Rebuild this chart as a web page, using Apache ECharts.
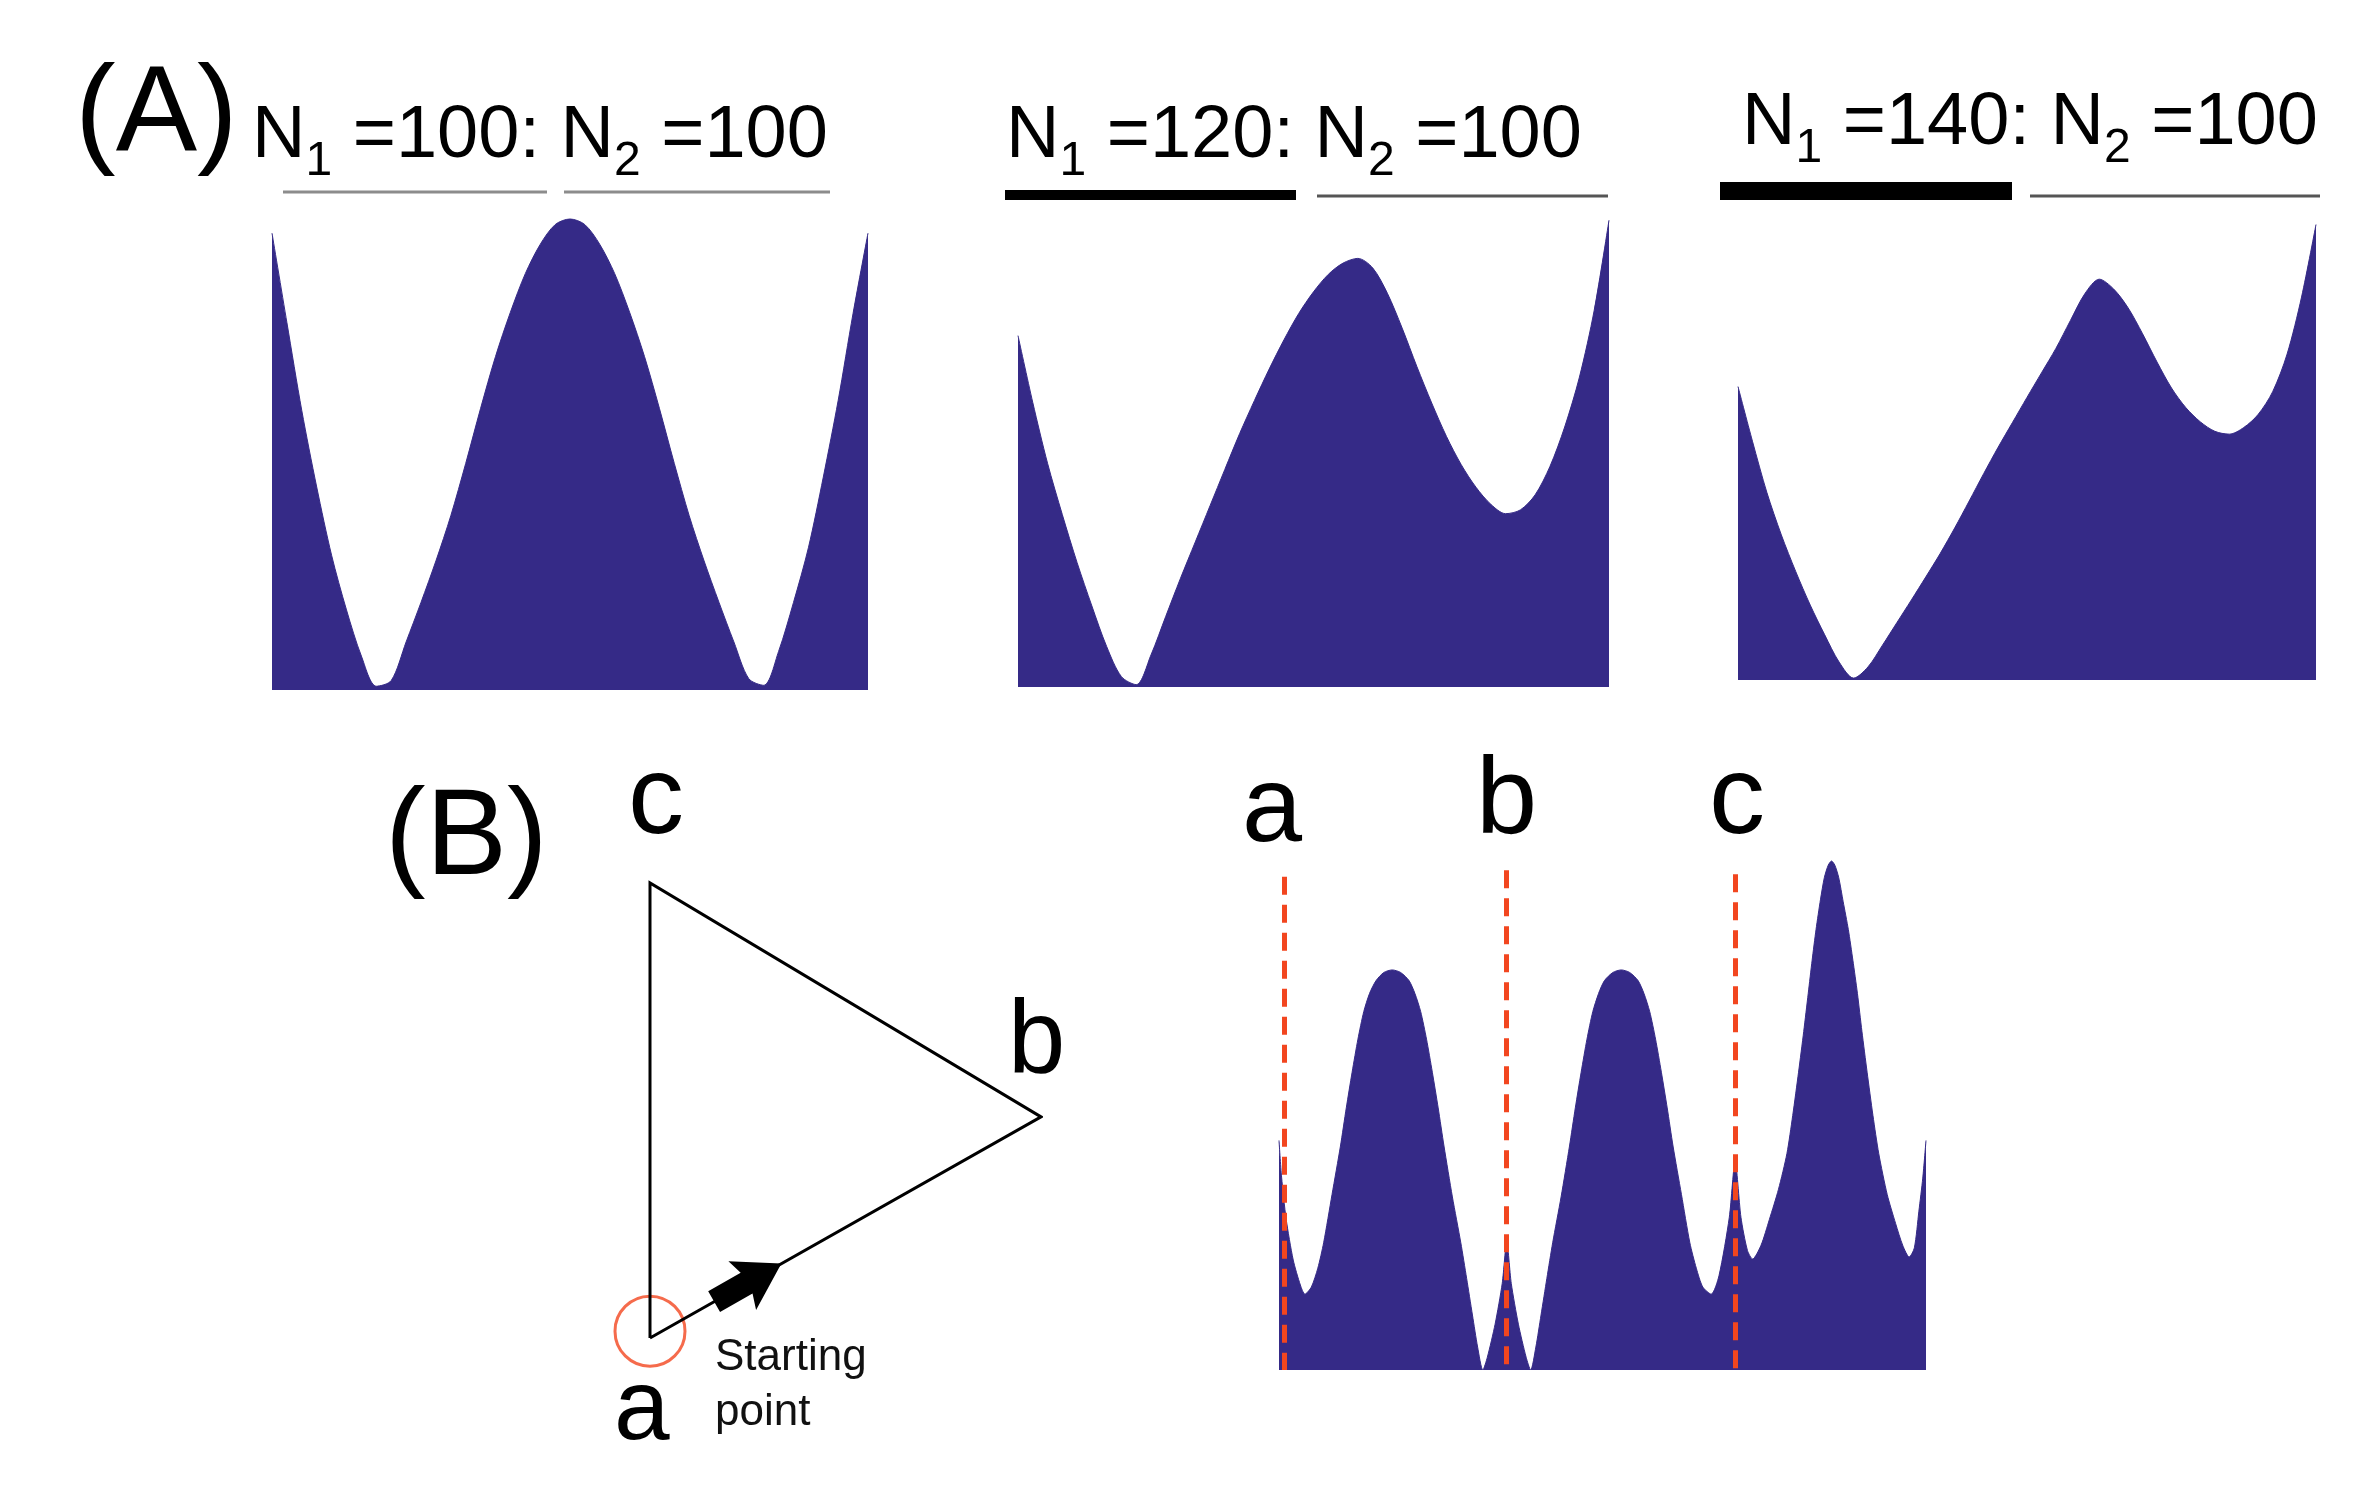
<!DOCTYPE html>
<html>
<head>
<meta charset="utf-8">
<script src="https://cdn.jsdelivr.net/npm/echarts@6/dist/echarts.min.js"></script>
<style>
html,body{margin:0;padding:0;background:#fff;}
#chart{width:2369px;height:1494px;}
</style>
</head>
<body>
<div id="chart"></div>
<script>
// ---------------- DATA ----------------
const n1Values = [100, 120, 140];
const n2Values = [100, 100, 100];

// Energy profiles (x: reaction coordinate 0-100, y: relative energy)
const profileA1 = [
  [0,97],[2.5,78],[5,59.3],[7.5,43.1],[10,28.6],[12.5,17.0],[15,7.2],[17.5,0.8],[20,2.0],[22.5,10.2],
  [25,18.6],[27.5,27.4],[30,37],[32.5,48.1],[35,59.8],[37.5,70.8],[40,80.2],[42.5,88.4],[45,94.6],[47.5,98.8],
  [50,100],[52.5,98.8],[55,94.6],[57.5,88.4],[60,80.2],[62.5,70.8],[65,59.8],[67.5,48.1],[70,37],[72.5,27.4],
  [75,18.6],[77.5,10.2],[80,2.4],[82.5,1.0],[85,8.2],[87.5,18.6],[90,30.2],[92.5,45.2],[95,61.5],[97.5,80],
  [100,97]
];
const profileA2 = [
  [0,74.6],[2.5,60.4],[5,47.5],[7.5,36.6],[10,26.4],[12.5,17.2],[15,8.6],[17.5,2.2],[20,0.5],[22.5,6.8],
  [25,15.0],[27.5,23.1],[30,30.8],[32.5,38.5],[35,46.2],[37.5,53.8],[40,60.8],[42.5,67.5],[45,73.7],
  [47.5,79.3],[50,83.9],[52.5,87.6],[55,90.0],[57.5,91.0],[60,89.0],[62.5,83.6],[65,76.2],[67.5,68.0],
  [70,60.3],[72.5,53.2],[75,47.2],[77.5,42.4],[80,38.8],[82.5,36.8],[85,37.6],[87.5,40.8],[90,46.8],
  [92.5,55.2],[95,65.8],[97.5,80],[100,99.1]
];
const profileA3 = [
  [0,62.3],[2.5,50.7],[5,39.8],[7.5,30.8],[10,23],[12.5,15.9],[15,9.6],[17.5,3.8],[20,0.4],[22.5,2.8],
  [25,7.4],[27.5,12.2],[30,17],[32.5,21.9],[35,26.9],[37.5,32.3],[40,38.0],[42.5,43.8],[45,49.4],
  [47.5,54.7],[50,60],[52.5,65.2],[55,70.4],[57.5,76.3],[60,82.0],[62.5,85.1],[65,83.0],[67.5,79],
  [70,73.5],[72.5,67.5],[75,62.0],[77.5,57.8],[80,54.8],[82.5,52.8],[85,52.2],[87.5,53.6],[90,56.4],
  [92.5,61.2],[95,69.2],[97.5,81.3],[100,96.7]
];
const profileB = [
  [0,45.1],[0.4,37.9],[1.1,29.7],[2.2,21.6],[3.3,16.7],[4.0,14.9],[5.0,16.3],[6.0,20],[6.9,25],
  [8.2,34.5],[9.5,44],[10.4,51.5],[11.3,58.5],[12.2,65],[13.1,70.4],[14.0,74],[15.0,76.5],[16.2,78.1],
  [17.5,78.6],[18.8,78.1],[20.1,76.5],[21.0,74],[21.9,70.4],[22.8,65],[23.7,58.5],[24.6,51.5],
  [25.5,44],[26.8,34],[28.1,25],[29.0,18],[29.9,10.8],[30.7,4.5],[31.5,0],[32.2,2.5],[33.4,9],
  [34.5,17],[35.2,25.1],[35.9,17],[37.0,9],[38.2,2.5],[38.9,0],[39.7,4.5],[40.5,10.8],[41.4,18],
  [42.3,25],[43.6,34],[44.9,44],[45.8,51.5],[46.7,58.5],[47.6,65],[48.5,70.4],[49.4,74],[50.3,76.5],
  [51.6,78.1],[52.9,78.6],[54.2,78.1],[55.5,76.5],[56.4,74],[57.3,70.4],[58.2,65],[59.1,58.5],
  [60.0,51.5],[60.9,44],[62.2,34.5],[63.5,25],[64.5,20],[65.5,16.3],[66.8,14.9],[68.0,18.5],
  [69.6,30],[70.5,41.0],[71.4,30],[72.4,23.5],[73.2,21.8],[74.5,24.5],[75.8,29.6],[77.2,35.5],
  [78.5,42.5],[79.4,50],[80.3,58.5],[81.1,66.5],[81.8,74],[82.4,80.5],[83.0,86.5],[83.7,92.5],
  [84.3,96.8],[84.9,99.2],[85.4,100],[85.9,99.2],[86.5,96.8],[87.2,92],[88.0,86.5],[88.7,80.5],
  [89.4,74],[90.1,66.5],[90.9,58.5],[91.8,50],[92.7,42.5],[94.0,34.5],[95.3,28.8],[96.4,24.5],
  [97.4,22.2],[98.2,24],[98.9,31.2],[99.5,37.7],[100,45.1]
];

// Schematic triangle (a -> b -> c -> a)
const triangleVertices = [[0,0],[100,48.6],[0,100],[0,0]];
const startPoint = [[0,1.5]];
const arrowTail = [16.4,8.0];
const arrowTip = [33.6,16.4];

// Vertex markers on the profile
const markerLabels = ['a','b','c'];
const markerX = [0.85, 35.2, 70.5];
const markerTop = [96.9, 98.2, 97.4];

// ---------------- CHART ----------------
const FONT = 'Liberation Sans, Arial, sans-serif';
const FILL = '#352a87';
const RED = '#f2461f';

const chart = echarts.init(document.getElementById('chart'), null, {renderer: 'canvas'});

const grids = [
  {left: 272, top: 219, width: 596, height: 471},
  {left: 1018, top: 216, width: 591, height: 471},
  {left: 1738, top: 209, width: 578, height: 471},
  {left: 650, top: 883, width: 391, height: 455},
  {left: 1279, top: 861, width: 647, height: 509}
];
const axisBase = {type: 'value', min: 0, max: 100, show: false};

function areaSeries(idx, data, smooth) {
  return {
    type: 'line', xAxisIndex: idx, yAxisIndex: idx, data: data,
    smooth: smooth, symbol: 'none', showSymbol: false, clip: false,
    lineStyle: {width: 1, color: FILL}, areaStyle: {color: FILL, opacity: 1},
    silent: true, emphasis: {disabled: true}
  };
}

function titleText(n1, n2) {
  return '{n|N}{s|1}{n| =' + n1 + ': N}{s|2}{n| =' + n2 + '}';
}
const titleRich = {
  n: {fontSize: 74, fontFamily: FONT, lineHeight: 120, fill: '#000'},
  s: {fontSize: 48, fontFamily: FONT, lineHeight: 48, padding: [50, 0, 0, 0], fill: '#000'}
};
const titlePos = [[252, 77], [1006, 77], [1742, 64]];

function txt(t, x, y, size, color) {
  return {type: 'text', x: x, y: y, z: 100, silent: true,
    style: {text: t, fontSize: size, fontFamily: FONT, fill: color || '#000',
      align: 'left', verticalAlign: 'middle', textAlign: 'left', textVerticalAlign: 'middle'}};
}
function seg(x1, y1, x2, y2, color, w) {
  return {type: 'line', z: 100, silent: true, shape: {x1: x1, y1: y1, x2: x2, y2: y2},
    style: {stroke: color, lineWidth: w}};
}

const graphics = [];
n1Values.forEach(function (n1, i) {
  graphics.push({type: 'text', x: titlePos[i][0], y: titlePos[i][1], z: 100, silent: true,
    style: {text: titleText(n1, n2Values[i]), rich: titleRich, fontFamily: FONT,
      align: 'left', verticalAlign: 'top', textAlign: 'left', textVerticalAlign: 'top'}});
});
// population bars under titles
graphics.push(seg(283, 192, 547, 192, '#8c8c8c', 3));
graphics.push(seg(564, 192, 830, 192, '#8c8c8c', 3));
graphics.push(seg(1005, 195, 1296, 195, '#000', 10));
graphics.push(seg(1317, 196, 1608, 196, '#555', 3));
graphics.push(seg(1720, 191, 2012, 191, '#000', 18));
graphics.push(seg(2030, 196, 2320, 196, '#555', 3));
// panel labels
graphics.push(txt('(A)', 75, 117, 122));
graphics.push(txt('(B)', 385, 840, 122));
// triangle vertex labels
graphics.push(txt('c', 628, 802, 112));
graphics.push(txt('b', 1008, 1044, 103));
graphics.push(txt('a', 614, 1411, 100));
graphics.push(txt('Starting', 715, 1358, 44, '#111'));
graphics.push(txt('point', 715, 1413, 44, '#111'));
// profile marker labels
const markerLabelPos = [[1242, 811, 108], [1476, 803, 110], [1709, 802, 112]];
markerLabels.forEach(function (l, i) {
  graphics.push(txt(l, markerLabelPos[i][0], markerLabelPos[i][1], markerLabelPos[i][2]));
});

// thick direction arrow, drawn from its data end points through the axis scales
function renderArrow(params, api) {
  const p0 = api.coord([api.value(0), api.value(1)]);
  const p1 = api.coord([api.value(2), api.value(3)]);
  const dx = p1[0] - p0[0], dy = p1[1] - p0[1];
  const len = Math.sqrt(dx * dx + dy * dy);
  const ux = dx / len, uy = dy / len;
  const nx = -uy, ny = ux;
  const headLen = 40, headHalf = 28, shaftHalf = 12, barb = 5;
  const bx = p1[0] - ux * headLen, by = p1[1] - uy * headLen;
  const pts = [
    [p0[0] + nx * shaftHalf, p0[1] + ny * shaftHalf],
    [bx + nx * shaftHalf, by + ny * shaftHalf],
    [bx - ux * barb + nx * headHalf, by - uy * barb + ny * headHalf],
    [p1[0], p1[1]],
    [bx - ux * barb - nx * headHalf, by - uy * barb - ny * headHalf],
    [bx - nx * shaftHalf, by - ny * shaftHalf],
    [p0[0] - nx * shaftHalf, p0[1] - ny * shaftHalf]
  ];
  return {type: 'polygon', shape: {points: pts}, style: {fill: '#000'}};
}

const option = {
  animation: false,
  backgroundColor: '#ffffff',
  grid: grids,
  xAxis: grids.map(function (g, i) { return Object.assign({gridIndex: i}, axisBase); }),
  yAxis: grids.map(function (g, i) { return Object.assign({gridIndex: i}, axisBase); }),
  series: [
    areaSeries(0, profileA1, 0.3),
    areaSeries(1, profileA2, 0.3),
    areaSeries(2, profileA3, 0.3),
    {
      type: 'line', xAxisIndex: 3, yAxisIndex: 3, data: triangleVertices,
      symbol: 'none', showSymbol: false, clip: false, silent: true,
      lineStyle: {width: 3, color: '#000', join: 'miter'},
      emphasis: {disabled: true}
    },
    {
      type: 'custom', xAxisIndex: 3, yAxisIndex: 3, silent: true, clip: false,
      encode: {x: [0, 2], y: [1, 3]},
      data: [[arrowTail[0], arrowTail[1], arrowTip[0], arrowTip[1]]],
      renderItem: renderArrow, z: 5
    },
    {
      type: 'scatter', xAxisIndex: 3, yAxisIndex: 3, data: startPoint,
      symbol: 'circle', symbolSize: 70, clip: false, silent: true,
      itemStyle: {color: 'rgba(0,0,0,0)', borderColor: RED, borderWidth: 3},
      emphasis: {disabled: true}
    },
    Object.assign(areaSeries(4, profileB, 0.25), {
      markLine: {
        silent: true, animation: false, symbol: ['none', 'none'],
        label: {show: false},
        emphasis: {disabled: true},
        lineStyle: {color: RED, width: 5, type: [18, 10], cap: 'butt'},
        data: markerX.map(function (x, i) {
          return [{coord: [x, markerTop[i]]}, {coord: [x, 0]}];
        })
      }
    })
  ],
  graphic: {elements: graphics}
};
chart.setOption(option);
</script>
</body>
</html>
